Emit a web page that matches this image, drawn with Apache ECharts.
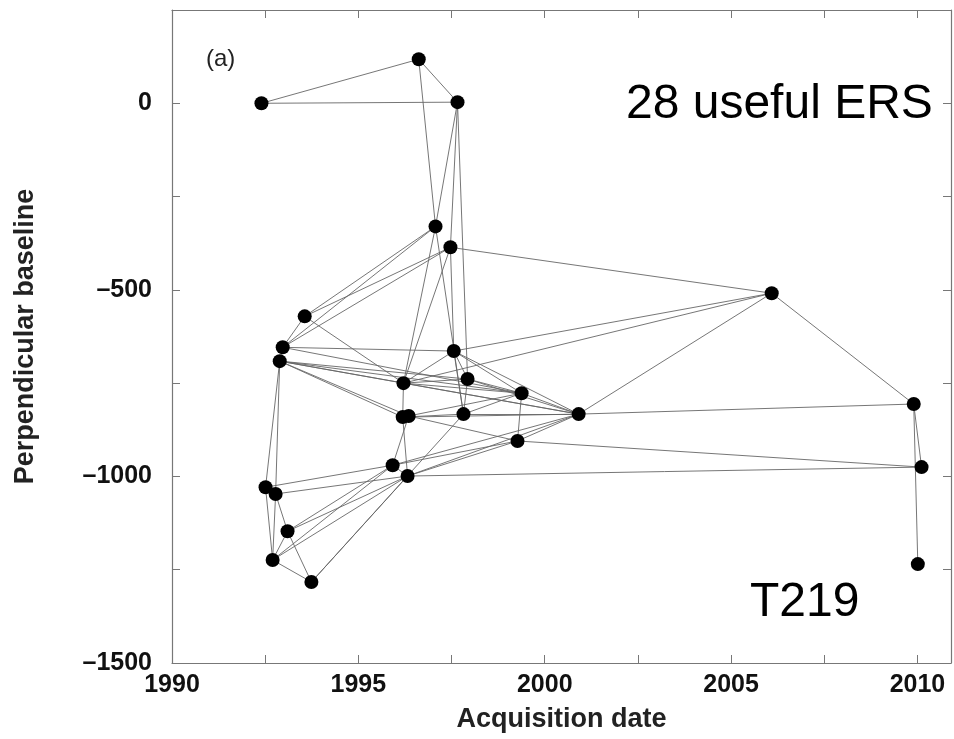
<!DOCTYPE html>
<html>
<head>
<meta charset="utf-8">
<script src="https://cdn.jsdelivr.net/npm/echarts@6/dist/echarts.min.js"></script>
<style>
  body { margin: 0; background: #fff; }
  #chart { width: 954px; height: 739px; }
</style>
</head>
<body>
<div id="chart"></div>
<script>
// acquisitions: id, date (decimal year), perpendicular baseline (m)
const nodeIds = ['A','B','C','D','E','F','G','H','I','J','K','L','M','N',
                 'O','P','Q','R','S','T','U','V','W','X','Y','Z','AA','AB'];
const nodeYear = [1992.40, 1996.62, 1997.66, 1997.07, 1997.47, 2006.09, 1993.56, 1992.97,
                  1992.89, 1997.56, 1996.21, 1997.93, 1999.38, 2000.91, 1996.19, 1996.35,
                  1997.82, 1999.27, 1995.92, 1996.32, 1992.51, 1992.78, 1993.10, 1992.70,
                  1993.74, 2009.90, 2010.11, 2010.01];
const nodeBaseline = [0, 118, 3, -330, -386, -509, -571, -654,
                      -691, -664, -750, -739, -777, -833, -841, -838,
                      -833, -905, -970, -999, -1029, -1047, -1147, -1224,
                      -1283, -806, -975, -1235];

// interferometric pairs
const pairs = [
  ['A','B'],['A','C'],['B','C'],['B','D'],['C','D'],['C','E'],['C','L'],
  ['D','G'],['D','H'],['D','K'],['D','Q'],['E','G'],['E','H'],['E','J'],['E','K'],['E','F'],
  ['G','H'],['G','K'],['H','I'],['H','J'],['H','M'],
  ['I','K'],['I','L'],['I','M'],['I','N'],['I','O'],['I','P'],['I','U'],['I','V'],
  ['J','K'],['J','L'],['J','Q'],['J','N'],['J','M'],['J','F'],
  ['K','L'],['K','M'],['K','N'],['K','O'],['K','F'],
  ['L','M'],['L','N'],['L','Q'],['M','N'],['M','P'],['M','Q'],['M','R'],
  ['N','O'],['N','Q'],['N','R'],['N','F'],['N','Z'],
  ['O','P'],['O','Q'],['P','R'],['P','S'],['O','T'],
  ['R','S'],['R','T'],['R','AA'],['S','N'],['T','N'],['T','AA'],['S','T'],
  ['U','V'],['U','S'],['V','T'],['U','X'],['V','X'],['V','W'],['W','X'],['W','Y'],['X','Y'],
  ['W','S'],['W','T'],['X','S'],['X','T'],['Y','T'],['Y','Q'],
  ['F','Z'],['Z','AA'],['Z','AB']
];

const xTicks = [1990, 1995, 2000, 2005, 2010];
const yTicks = [-1500, -1000, -500, 0];

const chart = echarts.init(document.getElementById('chart'));

const fontFam = '"Liberation Sans", Arial, sans-serif';
const frameColor = '#777';

function fmtY(v) {
  return v < 0 ? '\u2013' + Math.abs(v) : String(v);
}

const axisCommon = {
  axisLine: { show: true, onZero: false, lineStyle: { color: frameColor, width: 1.2 } },
  axisTick: { show: true, inside: true, length: 8, lineStyle: { color: frameColor } },
  minorTick: { show: true, splitNumber: 2, length: 8, lineStyle: { color: frameColor } },
  splitLine: { show: false }
};

let option = {
  animation: false,
  backgroundColor: '#fff',
  grid: { left: 172, right: 3, top: 10, bottom: 76 },
  xAxis: [
    Object.assign({
      type: 'value', min: 1990, max: 2010.9, interval: 5, position: 'bottom',
      name: 'Acquisition date', nameLocation: 'middle', nameGap: 43,
      nameTextStyle: { fontFamily: fontFam, fontWeight: 'bold', fontSize: 27, color: '#222' },
      axisLabel: {
        fontFamily: fontFam, fontWeight: 'bold', fontSize: 25, color: '#111', margin: 10,
        showMaxLabel: false,
        formatter: function (v) { return xTicks.indexOf(v) >= 0 ? String(v) : ''; }
      }
    }, axisCommon),
    Object.assign({
      type: 'value', min: 1990, max: 2010.9, interval: 5, position: 'top',
      axisLabel: { show: false }
    }, axisCommon)
  ],
  yAxis: [
    Object.assign({
      type: 'value', min: -1500, max: 250, interval: 500, position: 'left',
      name: 'Perpendicular baseline', nameLocation: 'middle', nameGap: 133,
      nameTextStyle: { fontFamily: fontFam, fontWeight: 'bold', fontSize: 27, color: '#222' },
      axisLabel: {
        fontFamily: fontFam, fontWeight: 'bold', fontSize: 25, color: '#111', margin: 20,
        showMaxLabel: false,
        formatter: function (v) { return yTicks.indexOf(v) >= 0 ? fmtY(v) : ''; }
      }
    }, axisCommon),
    Object.assign({
      type: 'value', min: -1500, max: 250, interval: 500, position: 'right',
      axisLabel: { show: false }
    }, axisCommon)
  ],
  series: [
    {
      type: 'graph',
      coordinateSystem: 'cartesian2d',
      symbol: 'circle',
      symbolSize: 14,
      itemStyle: { color: '#000' },
      lineStyle: { color: '#666', width: 0.9, opacity: 1 },
      label: { show: false },
      data: nodeIds.map(function (id, i) {
        return { name: id, value: [nodeYear[i], nodeBaseline[i]] };
      }),
      links: pairs.map(function (p) { return { source: p[0], target: p[1] }; }),
      z: 5
    }
  ],
  graphic: [
    { type: 'text', left: 206, top: 47,
      style: { text: '(a)', font: '24px ' + fontFam, fill: '#222' } },
    { type: 'text', left: 626, top: 81,
      style: { text: '28 useful ERS', font: '48px ' + fontFam, fill: '#000' } },
    { type: 'text', left: 750, top: 579,
      style: { text: 'T219', font: '48px ' + fontFam, fill: '#000' } }
  ]
};

chart.setOption(option);
</script>
</body>
</html>
